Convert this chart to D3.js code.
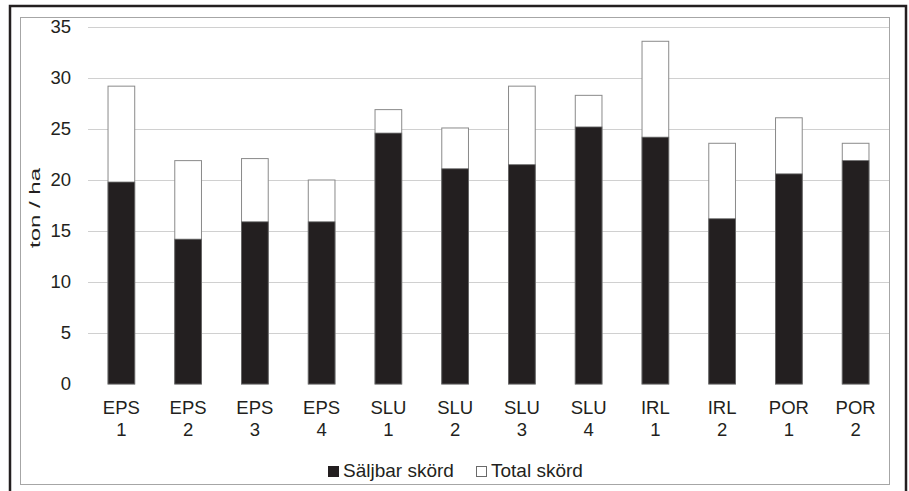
<!DOCTYPE html>
<html><head><meta charset="utf-8">
<script src="https://cdn.jsdelivr.net/npm/d3@7"></script>
<style>body{margin:0;background:#fff}svg{display:block;font-family:"Liberation Sans",Arial,sans-serif}</style>
</head><body><svg id="c" width="909" height="491"></svg>
<script>
const categories = [["EPS","1"],["EPS","2"],["EPS","3"],["EPS","4"],["SLU","1"],["SLU","2"],["SLU","3"],["SLU","4"],["IRL","1"],["IRL","2"],["POR","1"],["POR","2"]];
const saljbar = [19.8, 14.2, 15.9, 15.9, 24.6, 21.1, 21.5, 25.2, 24.2, 16.2, 20.6, 21.9];
const total   = [29.2, 21.9, 22.1, 20.0, 26.9, 25.1, 29.2, 28.3, 33.6, 23.6, 26.1, 23.6];
const yTicks = [0,5,10,15,20,25,30,35];
const seriesNames = ["Säljbar skörd","Total skörd"];

const svg = d3.select("#c");
const L = 88, R = 889, T = 27, B = 384;
const keys = categories.map((c,i)=>i);
const x = d3.scaleBand().domain(keys).range([L,R]).paddingInner(0.6).paddingOuter(0.3);
const y = d3.scaleLinear().domain([0,35]).range([B,T]);

// borders
svg.append("rect").attr("x",10).attr("y",6).attr("width",896).attr("height",500)
  .attr("fill","none").attr("stroke","#231f20").attr("stroke-width",2.5);
svg.append("rect").attr("x",20.5).attr("y",17.5).attr("width",869).attr("height",467)
  .attr("fill","none").attr("stroke","#a6a6a6").attr("stroke-width",1);

// gridlines
svg.append("g").selectAll("line").data(yTicks.filter(d=>d>0)).join("line")
  .attr("x1",L).attr("x2",R).attr("y1",d=>Math.round(y(d))+0.5).attr("y2",d=>Math.round(y(d))+0.5)
  .attr("stroke","#d0d0d0").attr("stroke-width",1);

// y axis labels
const yAxis = d3.axisLeft(y).tickValues(yTicks).tickSize(0).tickPadding(17);
const ga = svg.append("g").attr("transform",`translate(${L},0)`).call(yAxis);
ga.select(".domain").remove();
ga.selectAll("text").attr("font-size",18.5).attr("fill","#231f20").attr("font-family","Liberation Sans, Arial, sans-serif");

// y title
svg.append("text").attr("transform",`translate(39.5,208) rotate(-90)`)
  .attr("text-anchor","middle").attr("font-size",15).attr("fill","#231f20")
  .attr("textLength",80).attr("lengthAdjust","spacingAndGlyphs").text("ton / ha");

// bars
const g = svg.append("g");
g.selectAll(".tot").data(keys).join("rect").attr("class","tot")
  .attr("x",i=>x(i)).attr("width",x.bandwidth())
  .attr("y",i=>y(total[i])).attr("height",i=>y(0)-y(total[i]))
  .attr("fill","#fff").attr("stroke","#8a8a8a").attr("stroke-width",1);
g.selectAll(".sal").data(keys).join("rect").attr("class","sal")
  .attr("x",i=>x(i)).attr("width",x.bandwidth())
  .attr("y",i=>y(saljbar[i])).attr("height",i=>y(0)-y(saljbar[i]))
  .attr("fill","#231f20").attr("stroke","#6a6a6a").attr("stroke-width",0.8);

// category labels
const cl = svg.append("g").selectAll("text").data(keys).join("text")
  .attr("x",i=>x(i)+x.bandwidth()/2).attr("text-anchor","middle")
  .attr("font-size",18.5).attr("fill","#231f20");
cl.append("tspan").attr("x",i=>x(i)+x.bandwidth()/2).attr("y",414).text(i=>categories[i][0]);
cl.append("tspan").attr("x",i=>x(i)+x.bandwidth()/2).attr("y",436).text(i=>categories[i][1]);

// legend
const lg = svg.append("g");
lg.append("rect").attr("x",328).attr("y",466).attr("width",11).attr("height",11).attr("fill","#231f20");
lg.append("text").attr("x",343).attr("y",477).attr("font-size",19).attr("fill","#231f20").text(seriesNames[0]);
lg.append("rect").attr("x",476.5).attr("y",466.5).attr("width",10).attr("height",10).attr("fill","#fff").attr("stroke","#6a6a6a");
lg.append("text").attr("x",491).attr("y",477).attr("font-size",19).attr("fill","#231f20").text(seriesNames[1]);
</script></body></html>
